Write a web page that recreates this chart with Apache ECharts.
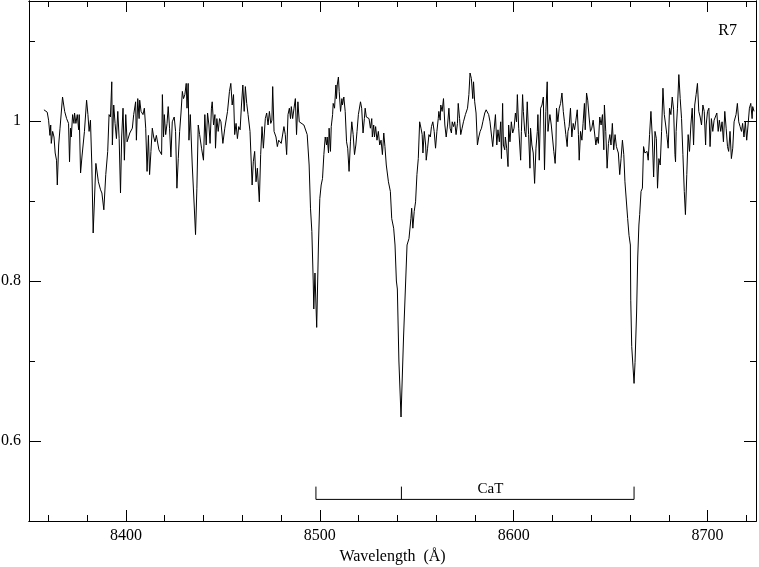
<!DOCTYPE html>
<html>
<head>
<meta charset="utf-8">
<script src="https://cdn.jsdelivr.net/npm/echarts@6/dist/echarts.min.js"></script>
<style>
  html, body { margin: 0; padding: 0; background: #fff; }
  #chart { width: 759px; height: 567px; }
</style>
</head>
<body>
<div id="chart"></div>
<script>
// spectrum R7
const wavelength = [
  8357.7, 8359.4, 8360.1, 8360.8, 8361.2, 8361.5, 8362.2, 8362.9, 8363.5, 8364.2, 8364.6, 8365.3, 8366.0, 8367.3, 8368.4, 8369.4,
  8370.4, 8370.9, 8371.4, 8371.8, 8372.5, 8373.2, 8373.5, 8374.2, 8374.9, 8375.6, 8375.9, 8376.6, 8377.3, 8378.0, 8378.6, 8379.7,
  8380.4, 8381.0, 8381.7, 8382.4, 8383.1, 8384.5, 8385.8, 8386.9, 8387.6, 8388.6, 8389.6, 8390.6, 8391.3, 8392.0, 8392.7, 8393.0,
  8393.7, 8394.4, 8395.1, 8395.8, 8396.5, 8397.2, 8397.8, 8398.5, 8399.2, 8399.9, 8400.6, 8402.0, 8403.3, 8404.0, 8405.0, 8405.4,
  8406.1, 8406.8, 8407.1, 8407.8, 8408.8, 8409.5, 8410.2, 8410.9, 8411.6, 8412.2, 8412.9, 8413.6, 8414.3, 8415.0, 8415.7, 8417.0,
  8418.4, 8418.8, 8419.4, 8419.8, 8420.5, 8421.2, 8421.8, 8422.5, 8423.2, 8423.9, 8424.9, 8425.6, 8426.3, 8427.0, 8427.7, 8428.4,
  8429.1, 8429.7, 8430.4, 8431.1, 8431.5, 8432.1, 8432.5, 8433.2, 8434.2, 8435.2, 8435.9, 8436.6, 8437.3, 8438.0, 8439.0, 8440.0,
  8440.7, 8441.4, 8442.1, 8442.8, 8443.4, 8444.1, 8444.5, 8445.2, 8445.9, 8446.2, 8446.9, 8447.6, 8448.3, 8449.0, 8450.0, 8451.0,
  8452.4, 8453.4, 8454.1, 8454.8, 8455.5, 8456.1, 8456.8, 8457.5, 8458.2, 8458.9, 8459.6, 8460.3, 8461.0, 8461.6, 8462.3, 8463.0,
  8464.0, 8465.1, 8465.7, 8466.4, 8467.1, 8467.8, 8468.8, 8469.5, 8470.2, 8470.9, 8471.9, 8472.6, 8473.3, 8474.0, 8474.7, 8475.3,
  8475.7, 8476.4, 8477.4, 8478.1, 8478.8, 8480.1, 8480.8, 8481.5, 8482.2, 8482.9, 8483.6, 8484.3, 8484.9, 8485.3, 8486.0, 8486.7,
  8487.4, 8488.0, 8488.7, 8489.4, 8490.4, 8491.8, 8492.8, 8493.5, 8494.5, 8495.2, 8495.9, 8496.6, 8496.9, 8497.5, 8498.4, 8499.3,
  8500.0, 8500.7, 8501.4, 8502.1, 8502.8, 8503.5, 8503.8, 8504.5, 8504.8, 8505.5, 8505.9, 8506.6, 8506.9, 8507.6, 8508.3, 8508.6,
  8509.0, 8509.6, 8510.0, 8510.7, 8511.4, 8511.7, 8512.4, 8513.1, 8513.8, 8514.4, 8515.1, 8515.8, 8516.5, 8517.2, 8517.9, 8518.6,
  8519.2, 8519.9, 8521.0, 8521.6, 8522.3, 8523.0, 8523.4, 8524.0, 8525.4, 8526.1, 8526.8, 8527.1, 8527.8, 8528.2, 8528.8, 8529.5,
  8530.2, 8530.9, 8531.6, 8532.3, 8533.0, 8533.6, 8534.3, 8535.4, 8536.4, 8537.1, 8538.1, 8538.8, 8539.5, 8540.0, 8540.8, 8541.9,
  8543.2, 8544.3, 8545.0, 8546.0, 8547.0, 8547.4, 8548.0, 8548.7, 8549.4, 8550.1, 8550.8, 8551.5, 8552.2, 8552.8, 8553.2, 8553.9,
  8554.6, 8554.9, 8555.6, 8556.3, 8557.0, 8557.6, 8558.3, 8559.0, 8559.7, 8560.4, 8561.1, 8561.4, 8562.1, 8562.4, 8563.1, 8563.8,
  8564.5, 8565.2, 8565.9, 8566.6, 8567.2, 8567.9, 8568.3, 8569.0, 8569.6, 8570.3, 8571.0, 8571.4, 8572.1, 8572.7, 8573.4, 8574.1,
  8575.1, 8576.2, 8576.9, 8577.5, 8578.2, 8578.9, 8579.3, 8579.9, 8580.6, 8581.3, 8582.0, 8582.7, 8583.4, 8584.1, 8585.1, 8585.8,
  8586.5, 8587.1, 8587.8, 8588.5, 8589.2, 8589.9, 8590.6, 8591.3, 8591.9, 8592.6, 8593.3, 8593.7, 8594.3, 8594.7, 8595.4, 8595.7,
  8596.4, 8597.1, 8597.4, 8598.1, 8598.8, 8599.5, 8600.2, 8600.9, 8601.5, 8601.9, 8602.6, 8603.6, 8604.0, 8604.6, 8605.0, 8605.7,
  8606.3, 8607.0, 8607.7, 8608.4, 8608.7, 8609.4, 8610.1, 8610.8, 8611.5, 8612.2, 8612.5, 8613.2, 8613.9, 8614.6, 8615.3, 8615.9,
  8616.6, 8617.3, 8617.7, 8618.0, 8618.7, 8619.4, 8620.1, 8620.7, 8621.4, 8621.8, 8622.1, 8622.8, 8623.5, 8624.2, 8624.9, 8625.6,
  8626.2, 8626.9, 8627.6, 8628.0, 8628.6, 8629.3, 8630.0, 8630.7, 8631.4, 8632.1, 8632.8, 8633.4, 8633.8, 8634.5, 8635.2, 8635.8,
  8636.5, 8636.9, 8637.6, 8638.2, 8638.9, 8639.6, 8640.3, 8641.0, 8641.7, 8642.4, 8643.0, 8643.7, 8644.4, 8645.1, 8645.8, 8646.5,
  8646.8, 8647.5, 8648.2, 8648.9, 8649.6, 8650.2, 8650.9, 8651.6, 8652.3, 8653.0, 8654.0, 8654.7, 8655.4, 8656.1, 8656.8, 8657.4,
  8658.1, 8658.8, 8659.5, 8660.2, 8660.4, 8660.9, 8662.1, 8662.6, 8663.4, 8664.0, 8664.6, 8665.0, 8665.7, 8666.4, 8667.0, 8667.7,
  8668.8, 8669.4, 8670.1, 8670.8, 8671.5, 8672.2, 8672.9, 8673.6, 8674.2, 8674.9, 8675.6, 8676.3, 8677.0, 8677.7, 8678.4, 8679.0,
  8679.7, 8680.4, 8681.1, 8681.8, 8682.5, 8683.2, 8683.5, 8683.8, 8684.5, 8685.2, 8685.9, 8686.6, 8687.3, 8688.0, 8688.6, 8689.3,
  8690.0, 8690.7, 8691.4, 8692.1, 8692.8, 8693.4, 8694.1, 8694.8, 8695.5, 8696.2, 8696.9, 8697.6, 8698.3, 8699.0, 8699.3, 8700.0,
  8700.7, 8701.3, 8702.0, 8702.7, 8703.4, 8704.1, 8704.8, 8705.5, 8706.1, 8706.8, 8707.5, 8708.2, 8708.9, 8709.6, 8710.3, 8710.9,
  8711.6, 8712.3, 8713.0, 8713.7, 8714.7, 8715.4, 8716.1, 8716.8, 8717.5, 8718.1, 8718.8, 8719.5, 8720.2, 8720.9, 8721.6, 8722.3,
  8723.0, 8723.3, 8724.0
];
const flux = [
  1.014, 1.011, 1.001, 0.982, 0.995, 0.972, 0.987, 0.980, 0.960, 0.951, 0.920, 0.970, 0.991, 1.030, 1.012, 1.003,
  0.997, 0.949, 0.991, 0.980, 1.008, 0.997, 1.010, 0.997, 1.008, 0.989, 1.008, 0.935, 0.955, 0.953, 0.987, 1.026,
  1.008, 0.987, 1.001, 0.945, 0.860, 0.947, 0.924, 0.914, 0.910, 0.889, 0.933, 0.962, 1.008, 1.005, 1.049, 0.970,
  1.020, 0.997, 0.978, 1.012, 0.978, 0.910, 0.980, 1.016, 0.951, 1.008, 0.974, 0.985, 0.991, 1.008, 1.024, 0.976,
  1.028, 1.003, 1.026, 1.012, 1.008, 1.016, 0.991, 0.937, 0.982, 0.933, 0.962, 0.991, 0.980, 0.974, 0.982, 0.964,
  0.958, 1.033, 0.980, 1.008, 0.983, 0.997, 1.018, 0.991, 0.955, 0.999, 1.005, 0.987, 0.916, 0.953, 0.987, 1.010,
  1.037, 1.028, 1.033, 1.047, 1.016, 1.047, 0.976, 1.008, 0.945, 0.895, 0.858, 0.916, 0.995, 0.983, 0.966, 0.951,
  1.008, 0.970, 1.010, 0.995, 0.972, 1.016, 1.024, 0.995, 1.008, 0.966, 1.003, 0.987, 1.003, 0.999, 0.972, 0.991,
  1.012, 1.037, 1.047, 1.020, 1.033, 0.983, 0.997, 0.978, 0.993, 0.989, 1.020, 1.045, 1.012, 1.043, 1.022, 1.008,
  0.987, 0.920, 0.949, 0.962, 0.924, 0.941, 0.899, 0.958, 0.993, 0.966, 1.003, 1.010, 0.995, 1.012, 0.997, 1.001,
  1.043, 0.987, 0.980, 0.968, 0.976, 0.972, 0.970, 0.993, 0.983, 0.958, 1.008, 1.016, 1.003, 1.018, 1.003, 1.016,
  1.028, 0.983, 1.024, 0.999, 0.997, 0.995, 0.993, 0.983, 0.945, 0.891, 0.862, 0.800, 0.765, 0.810, 0.742, 0.845,
  0.903, 0.920, 0.928, 0.958, 0.980, 0.970, 0.980, 0.960, 0.991, 0.962, 0.993, 1.008, 1.022, 1.016, 1.045, 1.028,
  1.045, 1.055, 1.037, 1.012, 1.028, 1.020, 1.030, 1.012, 0.974, 0.966, 0.937, 0.974, 0.999, 0.983, 0.958, 0.970,
  0.987, 1.008, 1.024, 1.016, 0.985, 1.003, 1.016, 1.005, 1.003, 0.991, 1.003, 0.980, 0.995, 0.980, 0.993, 0.976,
  0.987, 0.970, 0.976, 0.958, 0.985, 0.968, 0.945, 0.924, 0.912, 0.878, 0.866, 0.845, 0.800, 0.790, 0.700, 0.630,
  0.730, 0.800, 0.845, 0.853, 0.878, 0.891, 0.866, 0.887, 0.899, 0.933, 0.953, 0.999, 0.991, 0.983, 0.960, 0.987,
  0.970, 0.951, 0.966, 0.983, 0.980, 0.993, 0.999, 0.987, 0.966, 0.987, 1.003, 1.012, 1.001, 1.020, 1.012, 1.028,
  0.995, 0.980, 0.995, 1.016, 0.991, 0.985, 0.999, 0.993, 0.999, 0.983, 0.997, 1.022, 1.003, 0.983, 0.991, 0.999,
  1.008, 1.016, 1.033, 1.060, 1.053, 1.028, 1.049, 1.024, 1.010, 0.970, 0.980, 0.987, 0.991, 0.999, 1.010, 1.014,
  1.012, 1.008, 0.999, 1.001, 0.968, 0.989, 1.008, 0.970, 0.989, 0.974, 0.999, 0.953, 1.022, 0.970, 0.964, 0.980,
  0.966, 0.943, 0.995, 0.974, 0.999, 0.985, 0.991, 1.010, 0.999, 1.033, 0.991, 0.951, 0.987, 1.033, 1.012, 0.987,
  0.980, 1.024, 0.983, 0.941, 0.991, 0.970, 0.960, 0.922, 0.966, 0.987, 1.008, 0.951, 1.016, 1.020, 1.030, 0.939,
  1.012, 1.049, 0.987, 0.995, 1.008, 0.995, 0.993, 0.962, 0.947, 0.970, 1.016, 0.999, 1.016, 1.022, 1.035, 1.012,
  0.999, 0.983, 0.968, 0.987, 0.993, 1.016, 0.980, 0.997, 0.989, 1.001, 1.014, 0.983, 0.951, 0.987, 0.976, 0.997,
  1.022, 0.989, 1.035, 1.026, 1.005, 0.987, 0.991, 1.001, 1.003, 0.970, 0.980, 0.972, 1.005, 0.995, 1.008, 0.964,
  1.020, 0.987, 0.941, 0.972, 0.983, 0.970, 0.997, 0.964, 0.983, 0.968, 0.960, 0.933, 0.953, 0.976, 0.958, 0.924,
  0.926, 0.878, 0.857, 0.845, 0.776, 0.718, 0.672, 0.698, 0.760, 0.830, 0.870, 0.883, 0.912, 0.916, 0.968, 0.960,
  0.962, 0.951, 0.983, 1.012, 0.980, 0.930, 0.987, 0.978, 0.916, 0.953, 0.945, 0.987, 1.041, 1.008, 0.995, 0.983,
  0.966, 1.016, 1.008, 1.030, 1.014, 0.958, 0.949, 0.987, 1.016, 1.058, 1.028, 1.003, 0.958, 0.912, 0.883, 0.933,
  0.983, 0.962, 0.995, 1.016, 0.970, 1.020, 1.033, 1.047, 1.012, 1.005, 0.995, 1.020, 1.012, 0.970, 0.995, 1.012,
  1.016, 0.968, 1.003, 0.987, 1.001, 0.999, 1.010, 0.987, 1.001, 0.987, 0.999, 0.974, 1.012, 0.991, 0.968, 0.962,
  0.987, 0.953, 0.966, 0.999, 1.008, 1.022, 0.999, 0.993, 0.987, 0.997, 0.980, 0.999, 0.976, 0.995, 1.016, 1.022,
  1.003, 1.018, 1.012
];

const xMajorTicks = [8400, 8500, 8600, 8700];
const xMinorTicks = [8360, 8380, 8420, 8440, 8460, 8480, 8520, 8540, 8560, 8580, 8620, 8640, 8660, 8680, 8720];
const yMajorTicks = [0.6, 0.8, 1];
const yMinorTicks = [0.7, 0.9, 1.1];

// Ca II triplet marker
const catLines = [8498.0, 8542.1, 8662.1];
const catBase = 0.527;
const catTop = 0.543;
const catLabelAt = 8588;

const font = '"Liberation Serif", "Times New Roman", serif';
const black = '#000';

function xAxisDef(position, ticks, len, withLabel) {
  return {
    type: 'value', position: position, min: 8350, max: 8725,
    axisLine: { show: true, onZero: false, lineStyle: { color: black, width: 1 } },
    axisTick: { show: true, inside: true, length: len, customValues: ticks, lineStyle: { color: black, width: 1 } },
    axisLabel: {
      show: withLabel, customValues: ticks, color: black, fontFamily: font, fontSize: 16, margin: 7,
      formatter: v => String(v)
    },
    splitLine: { show: false }
  };
}

function yAxisDef(position, ticks, len, withLabel) {
  return {
    type: 'value', position: position, min: 0.5, max: 1.15,
    axisLine: { show: true, onZero: false, lineStyle: { color: black, width: 1 } },
    axisTick: { show: true, inside: true, length: len, customValues: ticks, lineStyle: { color: black, width: 1 } },
    axisLabel: {
      show: withLabel, customValues: ticks, color: black, fontFamily: font, fontSize: 16, margin: 8,
      formatter: v => String(Math.round(v * 10) / 10)
    },
    splitLine: { show: false }
  };
}

const xMain = xAxisDef('bottom', xMajorTicks, 11, true);
xMain.name = 'Wavelength  (\u00c5)';
xMain.nameLocation = 'middle';
xMain.nameGap = 26;
xMain.nameTextStyle = { color: black, fontFamily: font, fontSize: 16 };

const chart = echarts.init(document.getElementById('chart'));
chart.setOption({
  animation: false,
  backgroundColor: '#fff',
  title: {
    text: 'R7', right: 17, top: 18,
    textStyle: { color: black, fontFamily: font, fontSize: 16, fontWeight: 'normal' }
  },
  grid: { left: 29, right: 3, top: 1, bottom: 46, outerBoundsMode: 'none' },
  xAxis: [
    xMain,
    xAxisDef('bottom', xMinorTicks, 6, false),
    xAxisDef('top', xMajorTicks, 11, false),
    xAxisDef('top', xMinorTicks, 6, false)
  ],
  yAxis: [
    yAxisDef('left', yMajorTicks, 12, true),
    yAxisDef('left', yMinorTicks, 6, false),
    yAxisDef('right', yMajorTicks, 12, false),
    yAxisDef('right', yMinorTicks, 6, false)
  ],
  series: [
    {
      type: 'line',
      data: wavelength.map((w, i) => [w, flux[i]]),
      symbol: 'none',
      lineStyle: { color: black, width: 1 },
      silent: true
    },
    {
      type: 'line',
      data: [[catLines[0], catTop], [catLines[0], catBase], [catLines[2], catBase], [catLines[2], catTop]],
      symbol: 'none',
      lineStyle: { color: black, width: 1 },
      silent: true
    },
    {
      type: 'line',
      data: [[catLines[1], catBase], [catLines[1], catTop]],
      symbol: 'none',
      lineStyle: { color: black, width: 1 },
      silent: true
    },
    {
      type: 'scatter',
      data: [[catLabelAt, catBase]],
      symbolSize: 0,
      silent: true,
      itemStyle: { opacity: 1, color: black },
      label: {
        show: true, position: 'top', distance: 3, formatter: 'CaT', opacity: 1,
        color: black, fontFamily: font, fontSize: 15
      }
    }
  ]
});
</script>
</body>
</html>
